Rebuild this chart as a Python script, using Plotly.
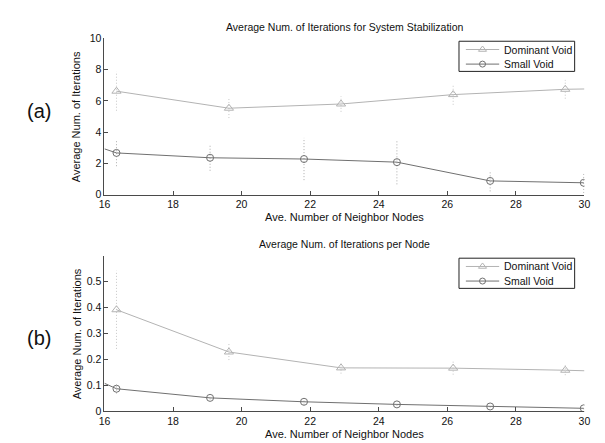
import plotly.graph_objects as go

# ---------------- data ----------------
x_dom = [16.35, 19.63, 22.9, 26.17, 29.44]
x_small = [16.35, 19.08, 21.82, 24.53, 27.25, 29.98]
line_start_x = 16.0
line_end_x = 30.0

# panel (a): iterations for system stabilization
dom_a = [6.62, 5.53, 5.80, 6.40, 6.74]
dom_a_err = [1.25, 0.63, 0.50, 0.65, 0.60]
dom_a_end = 6.76
small_a = [2.67, 2.36, 2.28, 2.08, 0.88, 0.76]
small_a_err = [0.85, 0.83, 1.35, 1.42, 0.67, 0.65]
small_a_start = 2.93

# panel (b): iterations per node
dom_b = [0.390, 0.228, 0.167, 0.166, 0.158]
dom_b_err = [0.150, 0.031, 0.022, 0.025, 0.019]
dom_b_end = 0.156
small_b = [0.087, 0.052, 0.037, 0.027, 0.019, 0.012]
small_b_err = [0.018, 0.006, 0.011, 0.005, 0.004, 0.004]
small_b_start = 0.108

x_ticks = [16, 18, 20, 22, 24, 26, 28, 30]
a_yticks = [0, 2, 4, 6, 8, 10]
b_yticks = [0, 0.1, 0.2, 0.3, 0.4, 0.5]
b_ytick_text = ["0", "0.1", "0.2", "0.3", "0.4", "0.5"]

titles = ["Average Num. of Iterations for System Stabilization",
          "Average Num. of Iterations per Node"]
x_label = "Ave. Number of Neighbor Nodes"
y_label = "Average Num. of Iterations"
names = ["Dominant Void", "Small Void"]

# ---------------- style ----------------
W, H = 605, 443
FONT = "Liberation Sans, Arial, Helvetica, sans-serif"
DOM_C = "#b3b3b3"
SMALL_C = "#707070"
DOM_ERR_C = "#c6c6c6"
SMALL_ERR_C = "#ababab"
AX_C = "#4a4a4a"
TXT_C = "#111111"


def px_x(p):
    return p / W


def px_y(p):
    return 1 - p / H


def err_segments(xs, ys, es):
    ex, ey = [], []
    for x, y, e in zip(xs, ys, es):
        ex += [x, x, None]
        ey += [y - e, y + e, None]
    return ex, ey


fig = go.Figure()

panels = [
    ("x", "y", dom_a, dom_a_err, dom_a_end, small_a, small_a_err, small_a_start),
    ("x2", "y2", dom_b, dom_b_err, dom_b_end, small_b, small_b_err, small_b_start),
]

for xa, ya, dom, dom_err, dom_end, sm, sm_err, sm_start in panels:
    ex, ey = err_segments(x_dom, dom, dom_err)
    fig.add_trace(go.Scatter(x=ex, y=ey, mode="lines", xaxis=xa, yaxis=ya,
                             line=dict(color=DOM_ERR_C, width=1, dash="1px,2px"),
                             showlegend=False, hoverinfo="skip"))
    ex, ey = err_segments(x_small, sm, sm_err)
    fig.add_trace(go.Scatter(x=ex, y=ey, mode="lines", xaxis=xa, yaxis=ya,
                             line=dict(color=SMALL_ERR_C, width=1, dash="1px,2px"),
                             showlegend=False, hoverinfo="skip"))
    fig.add_trace(go.Scatter(x=x_dom + [line_end_x], y=dom + [dom_end], mode="lines",
                             xaxis=xa, yaxis=ya, line=dict(color=DOM_C, width=1),
                             name=names[0], showlegend=False))
    fig.add_trace(go.Scatter(x=[line_start_x] + x_small, y=[sm_start] + sm, mode="lines",
                             xaxis=xa, yaxis=ya, line=dict(color=SMALL_C, width=1),
                             name=names[1], showlegend=False))
    fig.add_trace(go.Scatter(x=x_dom, y=dom, mode="markers", name=names[0],
                             xaxis=xa, yaxis=ya, showlegend=False,
                             marker=dict(symbol="triangle-up-open", size=8,
                                         color=DOM_C, line=dict(width=1, color=DOM_C))))
    fig.add_trace(go.Scatter(x=x_small, y=sm, mode="markers", name=names[1],
                             xaxis=xa, yaxis=ya, showlegend=False,
                             marker=dict(symbol="circle-open", size=7,
                                         color=SMALL_C, line=dict(width=1, color=SMALL_C))))

# ---- boxed legends (MATLAB style), drawn on an overlay pixel axis ----
legend_tops = [28, 251]
legend_left, legend_right, legend_h = 454, 572, 31
row_offsets = [8.5, 23.5]
sample_x0, sample_x1, text_x = 461, 495, 498
leg_colors = [DOM_C, SMALL_C]
leg_symbols = ["triangle-up-open", "circle-open"]
leg_sizes = [7, 6]

shapes = []
ann = []
for top in legend_tops:
    shapes.append(dict(type="rect", xref="paper", yref="paper",
                       x0=px_x(legend_left), x1=px_x(legend_right),
                       y0=px_y(top + legend_h), y1=px_y(top),
                       line=dict(color="#222222", width=1),
                       fillcolor="rgba(0,0,0,0)", layer="above"))
for i in range(2):
    ly = [top + row_offsets[i] for top in legend_tops]
    lx, lyy = [], []
    for y in ly:
        lx += [sample_x0, sample_x1, None]
        lyy += [y, y, None]
    fig.add_trace(go.Scatter(x=lx, y=lyy, mode="lines", xaxis="x3", yaxis="y3",
                             line=dict(color=leg_colors[i], width=1),
                             showlegend=False, hoverinfo="skip"))
    fig.add_trace(go.Scatter(x=[(sample_x0 + sample_x1) / 2] * len(ly), y=ly,
                             mode="markers", xaxis="x3", yaxis="y3",
                             marker=dict(symbol=leg_symbols[i], size=leg_sizes[i],
                                         color=leg_colors[i],
                                         line=dict(width=1, color=leg_colors[i])),
                             showlegend=False, hoverinfo="skip"))
    for y in ly:
        ann.append(dict(text=names[i], x=px_x(text_x), y=px_y(y), xref="paper",
                        yref="paper", xanchor="left", yanchor="middle", showarrow=False,
                        font=dict(family=FONT, size=10.5, color=TXT_C)))

axis_common = dict(showline=True, linecolor=AX_C, linewidth=1, mirror=False,
                   ticks="inside", ticklen=4, tickwidth=1, tickcolor=AX_C,
                   showgrid=False, zeroline=False,
                   tickfont=dict(family=FONT, size=10.5, color=TXT_C))

xdom = [px_x(92.3), px_x(582)]
fig.update_layout(
    width=W, height=H,
    margin=dict(l=0, r=0, t=0, b=0),
    paper_bgcolor="white", plot_bgcolor="rgba(0,0,0,0)",
    font=dict(family=FONT, color=TXT_C),
    showlegend=False,
    xaxis=dict(domain=xdom, range=[16, 30], tickvals=x_ticks, anchor="y", **axis_common),
    yaxis=dict(domain=[px_y(185.7), px_y(25)], range=[0, 10], tickvals=a_yticks,
               anchor="x", **axis_common),
    xaxis2=dict(domain=xdom, range=[16, 30], tickvals=x_ticks, anchor="y2", **axis_common),
    yaxis2=dict(domain=[px_y(408.5), px_y(248.5)], range=[0, 0.597], tickvals=b_yticks,
                ticktext=b_ytick_text, anchor="x2", **axis_common),
    xaxis3=dict(domain=[0, 1], range=[0, W], visible=False, anchor="y3", fixedrange=True),
    yaxis3=dict(domain=[0, 1], range=[H, 0], visible=False, anchor="x3", fixedrange=True),
    shapes=shapes,
)

xc = (92.3 + 582) / 2
for t, ty in zip(titles, [13.4, 236.5]):
    ann.append(dict(text=t, x=px_x(xc), y=px_y(ty), xref="paper", yref="paper",
                    xanchor="center", yanchor="middle", showarrow=False,
                    font=dict(family=FONT, size=10.5, color=TXT_C)))
for ty in [208.5, 432]:
    ann.append(dict(text=x_label, x=px_x(xc), y=px_y(ty), xref="paper", yref="paper",
                    xanchor="center", yanchor="middle", showarrow=False,
                    font=dict(family=FONT, size=11, color=TXT_C)))
for ty in [(25 + 185.7) / 2, (248.5 + 408.5) / 2]:
    ann.append(dict(text=y_label, x=px_x(64), y=px_y(ty), xref="paper", yref="paper",
                    xanchor="center", yanchor="middle", showarrow=False, textangle=-90,
                    font=dict(family=FONT, size=11, color=TXT_C)))
for lab, ty in zip(["(a)", "(b)"], [100, 333.5]):
    ann.append(dict(text=lab, x=px_x(26), y=px_y(ty), xref="paper", yref="paper",
                    xanchor="center", yanchor="middle", showarrow=False,
                    font=dict(family=FONT, size=20, color=TXT_C)))
fig.update_layout(annotations=ann)

fig.write_html("out.html")
